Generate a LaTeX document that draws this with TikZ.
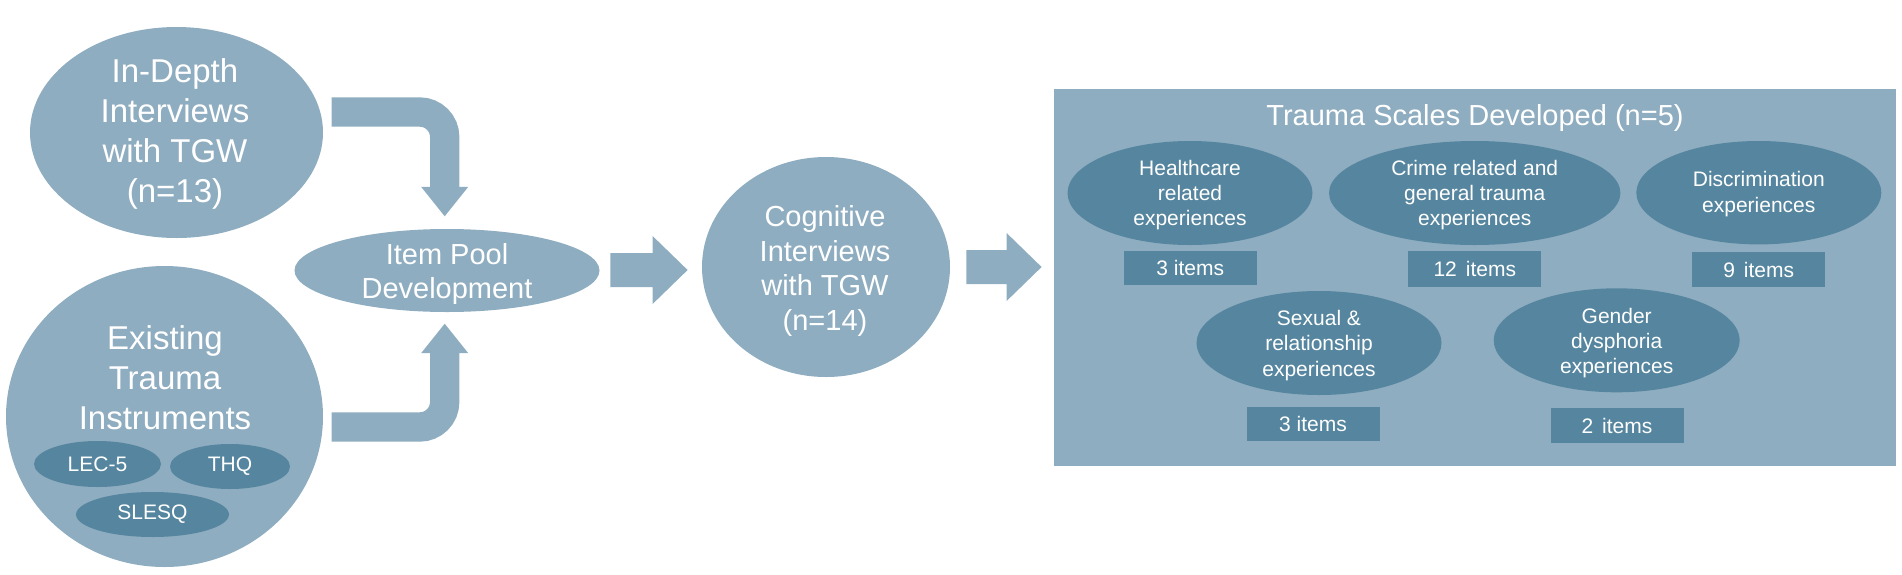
\documentclass[tikz,border=0pt]{standalone}
\usepackage{fontspec}
\setmainfont{Liberation Sans}
\usetikzlibrary{calc,shapes.geometric}
\definecolor{lightblue}{RGB}{143,173,192}
\definecolor{darkblue}{RGB}{86,134,159}
\newcommand\fbig{\fontsize{16.5}{20}\selectfont}
\newcommand\fmid{\fontsize{14.5}{17.4}\selectfont}
\newcommand\ftitle{\fontsize{14.5}{17}\selectfont}
\newcommand\fsmall{\fontsize{10.5}{12.65}\selectfont}
\newcommand\blockarrow[2]{%
  \fill[lightblue] ($(#1)+(0,-17)$) -- ($(#2)+(-35,-17)$) -- ($(#2)+(-35,-34)$) -- (#2)
    -- ($(#2)+(-35,34)$) -- ($(#2)+(-35,17)$) -- ($(#1)+(0,17)$) -- cycle;}
\begin{document}
\begin{tikzpicture}[x=0.5pt,y=-0.5pt,
  lightell/.style={ellipse, fill=lightblue, inner sep=0pt, text=white, align=center},
  darkell/.style={ellipse, fill=darkblue, inner sep=0pt, text=white, align=center, font=\fsmall},
  itembox/.style={rectangle, fill=darkblue, inner sep=0pt, text=white, font=\fsmall,
     minimum width=66.5pt, minimum height=17.5pt},
  txt/.style={text=white, align=center, inner sep=0pt},
  bentshaft/.style={draw=lightblue, line width=14.65pt, rounded corners=12.5pt},
]
\useasboundingbox (0,0) rectangle (1902,574);

% left inputs
\node[lightell, minimum width=146.5pt, minimum height=105.5pt] (ind) at (176.5,132.5) {};
\node[txt, font=\fbig] (indt) at (175,134) {In-Depth\\Interviews\\with TGW\\(n=13)};
\node[lightell, minimum width=158.5pt, minimum height=150.5pt] (exist) at (164.5,416.5) {};
\node[txt, font=\fbig] (existt) at (165,378) {Existing\\Trauma\\Instruments};
\node[darkell, minimum width=63.5pt, minimum height=23pt] (lec) at (97.5,464) {LEC-5};
\node[darkell, minimum width=60pt, minimum height=22.5pt] (thq) at (230,466.5) {THQ};
\node[darkell, minimum width=76.5pt, minimum height=22.5pt] (slesq) at (152.5,514.5) {SLESQ};

% item pool
\node[lightell, minimum width=152.5pt, minimum height=41.5pt] (pool) at (447,270.5) {};
\node[txt, font=\fmid] (poolt) at (447,274) {Item Pool\\Development};

% cognitive
\node[lightell, minimum width=124pt, minimum height=110pt] (cog) at (826,267) {};
\node[txt, font=\fmid] (cogt) at (825,271) {Cognitive\\Interviews\\with TGW\\(n=14)};

% scales panel
\node[rectangle, fill=lightblue, inner sep=0pt, minimum width=421pt, minimum height=188.5pt] (scales) at (1475,277.5) {};
\node[txt, font=\ftitle] (title) at (1475,118) {Trauma Scales Developed (n=5)};

\node[darkell, minimum width=122.5pt, minimum height=52pt] (health) at (1190,193) {};
\node[txt, font=\fsmall] (healtht) at (1190,195) {Healthcare\\related\\experiences};
\node[darkell, minimum width=145.7pt, minimum height=52pt] (crime) at (1474.7,193) {};
\node[txt, font=\fsmall] (crimet) at (1474.7,195) {Crime related and\\general trauma\\experiences};
\node[darkell, minimum width=122.5pt, minimum height=51.7pt] (discr) at (1758.8,192.7) {};
\node[txt, font=\fsmall] (discrt) at (1758.8,194) {Discrimination\\experiences};
\node[darkell, minimum width=122.5pt, minimum height=52pt] (sexual) at (1319,343) {};
\node[txt, font=\fsmall] (sexualt) at (1319,345.5) {Sexual \&\\relationship\\experiences};
\node[darkell, minimum width=123pt, minimum height=52pt] (gender) at (1616.7,340.3) {};
\node[txt, font=\fsmall] (gendert) at (1616.7,343) {Gender\\dysphoria\\experiences};

\node[itembox, minimum height=17.2pt] (bh) at (1190.3,268) {3 items};
\node[itembox, minimum height=18pt] (bc) at (1474.8,269) {12\hspace{0.15em} items};
\node[itembox] (bd) at (1758.7,269.8) {9\hspace{0.15em} items};
\node[itembox, minimum height=17pt] (bs) at (1313,423.7) {3 items};
\node[itembox] (bg) at (1617,425.8) {2\hspace{0.15em} items};

% bent arrows into item pool
\coordinate (b1s) at (331.7,112);
\coordinate (b1e) at ($(pool.north)+(-2.3,-12.3)$);
\draw[bentshaft] (b1s) -- (b1s -| b1e) -- ($(b1e)+(0,-28)$);
\fill[lightblue] ($(b1e)+(-23.5,-29.4)$) -- ($(b1e)+(23.5,-29.4)$) -- (b1e) -- cycle;

\coordinate (b2s) at (331.7,427);
\coordinate (b2e) at ($(pool.south)+(-2.3,11.3)$);
\draw[bentshaft] (b2s) -- (b2s -| b2e) -- ($(b2e)+(0,28)$);
\fill[lightblue] ($(b2e)+(-23.5,29.4)$) -- ($(b2e)+(23.5,29.4)$) -- (b2e) -- cycle;

% straight block arrows
\coordinate (a1s) at ($(pool.east)+(10.5,-0.5)$);
\coordinate (a1e) at ($(a1s -| cog.west)+(-14,0)$);
\blockarrow{a1s}{a1e}
\coordinate (a2s) at ($(cog.east)+(16,0)$);
\coordinate (a2e) at ($(a2s -| scales.west)+(-12,0)$);
\blockarrow{a2s}{a2e}
\end{tikzpicture}
\end{document}
